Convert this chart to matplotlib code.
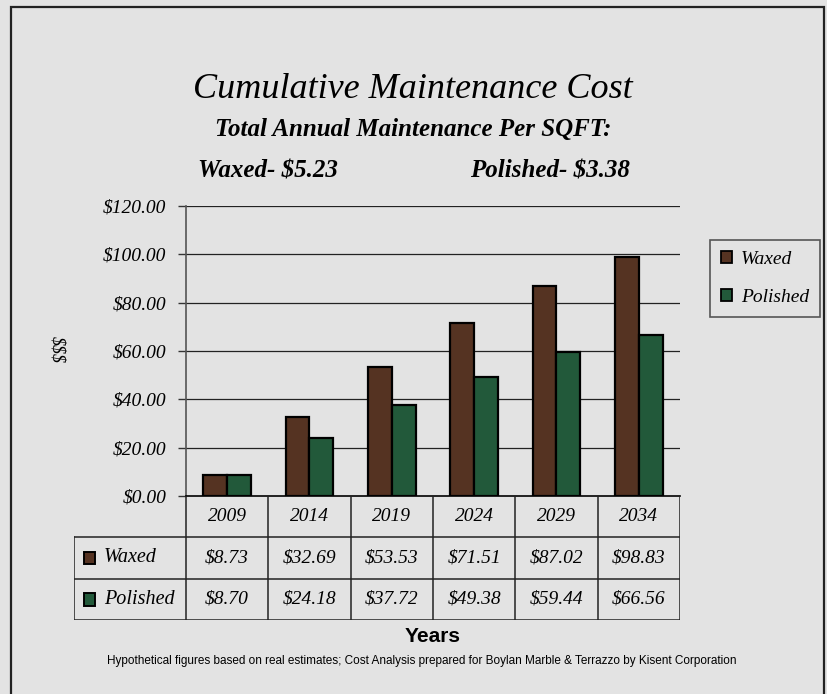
import matplotlib
matplotlib.use('Agg')
import matplotlib.pyplot as plt
from matplotlib.patches import Rectangle, Patch
import numpy as np

years = ['2009', '2014', '2019', '2024', '2029', '2034']
waxed = [8.73, 32.69, 53.53, 71.51, 87.02, 98.83]
polished = [8.70, 24.18, 37.72, 49.38, 59.44, 66.56]
series_names = ['Waxed', 'Polished']
yticks = [0, 20, 40, 60, 80, 100, 120]

waxed_color = '#553322'
polished_color = '#22593a'
bg = '#e3e3e3'
serif = 'Liberation Serif'

fig = plt.figure(figsize=(8.28, 6.94), dpi=100, facecolor=bg)
W, H = 828.0, 694.0

def fx(px):
    return px / W

def fy(py):
    return 1 - py / H

# outer frame
fig.patches.append(Rectangle((fx(11), -0.05), fx(824) - fx(11), fy(7) + 0.05,
                             transform=fig.transFigure, fill=False,
                             edgecolor='#222222', lw=1.6))

# titles
fig.text(fx(413), fy(90), 'Cumulative Maintenance Cost', ha='center', va='center',
         family=serif, style='italic', fontsize=26)
fig.text(fx(413), fy(130), 'Total Annual Maintenance Per SQFT:', ha='center', va='center',
         family=serif, style='italic', weight='bold', fontsize=18)
fig.text(fx(198), fy(171), 'Waxed- $5.23', ha='left', va='center',
         family=serif, style='italic', weight='bold', fontsize=18)
fig.text(fx(470), fy(171), 'Polished- $3.38', ha='left', va='center',
         family=serif, style='italic', weight='bold', fontsize=18)

# main plot
ax = fig.add_axes([fx(186), fy(496), fx(680) - fx(186), fy(206) - fy(496)])
ax.set_facecolor('none')
x = np.arange(len(years))
bw = 0.29
ax.bar(x - bw / 2, waxed, bw, color=waxed_color, edgecolor='black', lw=1.6, zorder=3)
ax.bar(x + bw / 2, polished, bw, color=polished_color, edgecolor='black', lw=1.6, zorder=3)
ax.set_xlim(-0.5, len(years) - 0.5)
ax.set_ylim(0, 120)
ax.set_yticks(yticks)
ax.set_yticklabels(['$%.2f' % v for v in yticks], family=serif, style='italic', fontsize=14)
ax.set_xticks([])
for v in yticks[1:]:
    ax.axhline(v, color='#222222', lw=0.9, zorder=1)
for s in ['top', 'right']:
    ax.spines[s].set_visible(False)
ax.spines['left'].set_color('#555555')
ax.spines['left'].set_linewidth(1.2)
ax.spines['bottom'].set_color('black')
ax.spines['bottom'].set_linewidth(1.2)
ax.tick_params(axis='y', length=6, width=1, color='#333333', pad=8)

fig.text(fx(57), fy(350), '$$$', rotation=270, ha='center', va='center',
         family=serif, style='italic', fontsize=13)

# legend
handles = [Patch(facecolor=waxed_color, edgecolor='black', lw=1.3),
           Patch(facecolor=polished_color, edgecolor='black', lw=1.3)]
leg = fig.legend(handles, series_names, loc='upper left',
                 bbox_to_anchor=(fx(710), fy(240)), frameon=True, borderaxespad=0,
                 prop={'family': serif, 'style': 'italic', 'size': 14},
                 handlelength=0.6, handleheight=0.6, handletextpad=0.45,
                 labelspacing=1.1, borderpad=0.55, fancybox=False)
leg.get_frame().set_facecolor('none')
leg.get_frame().set_edgecolor('#333333')
leg.get_frame().set_linewidth(1.2)

# data table under the plot
tab = fig.add_axes([fx(74), fy(620), fx(680) - fx(74), fy(496) - fy(620)])
tab.set_axis_off()
catw = (680 - 186) / float(len(years))
left = -0.5 - (186 - 74) / catw
right = len(years) - 0.5
tab.set_xlim(left, right)
tab.set_ylim(0, 3)
lc = '#222222'
for b in np.arange(-0.5, len(years), 1.0):
    tab.plot([b, b], [0, 3], color=lc, lw=1.1)
tab.plot([left, left], [0, 2], color=lc, lw=1.1)
for yy in [0, 1, 2]:
    tab.plot([left, right], [yy, yy], color=lc, lw=1.1)

for i, yr in enumerate(years):
    tab.text(i, 2.5, yr, ha='center', va='center', family=serif, style='italic', fontsize=14)
    tab.text(i, 1.5, '$%.2f' % waxed[i], ha='center', va='center',
             family=serif, style='italic', fontsize=14)
    tab.text(i, 0.5, '$%.2f' % polished[i], ha='center', va='center',
             family=serif, style='italic', fontsize=14)

for row_y, name, col in [(1.5, series_names[0], waxed_color), (0.5, series_names[1], polished_color)]:
    tab.add_patch(Rectangle((left + 0.12, row_y - 0.15), 0.13, 0.3,
                            facecolor=col, edgecolor='black', lw=1.4))
    tab.text(left + 0.36, row_y, name, ha='left', va='center',
             family=serif, style='italic', fontsize=14.5)

fig.text(fx(433), fy(636), 'Years', ha='center', va='center',
         family='Liberation Sans', weight='bold', fontsize=15)
fig.text(fx(422), fy(661),
         'Hypothetical figures based on real estimates; Cost Analysis prepared for '
         'Boylan Marble & Terrazzo by Kisent Corporation',
         ha='center', va='center', family='Liberation Sans', fontsize=8.5)

fig.savefig('out.png', dpi=100, facecolor=bg)
